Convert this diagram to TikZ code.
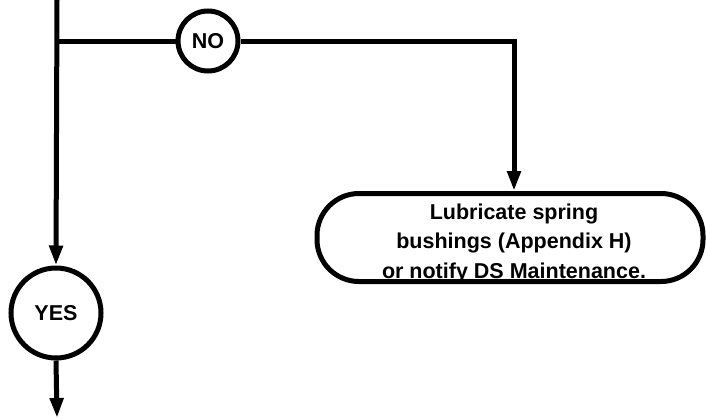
\documentclass[tikz,border=0pt]{standalone}
\usepackage{fontspec}
\setmainfont{Liberation Sans}
\usetikzlibrary{arrows.meta}
\begin{document}
\begin{tikzpicture}[x=1pt,y=-1pt,
  line/.style={line width=5pt},
  arr/.style={line, -{Triangle[length=20pt,width=13pt]}},
  circ/.style={circle, draw, line width=5pt, inner sep=0pt, font=\bfseries\fontsize{21.5}{25}\selectfont},
  actbox/.style={draw, line width=5pt, rounded corners=42pt, minimum width=386pt, minimum height=88pt, inner sep=0pt},
  acttext/.style={align=center, font=\bfseries\fontsize{21.5}{29.5}\selectfont}
]
\useasboundingbox (0,0) rectangle (706,418);
\coordinate (top) at (57,0);
\coordinate (j) at (57,41);
\coordinate (bend) at (514,41);
\coordinate (bot) at (57,418);
\node[circ, minimum size=60pt] (no) at (208,41) {NO};
\node[circ, minimum size=90pt] (yes) at (56,313) {YES};
\node[actbox] (act) at (510,237.5) {};
\node[acttext] (acttxt) at (514,243) {Lubricate spring\\bushings (Appendix H)\\or notify DS Maintenance.};
\draw[arr] (top) -- (yes.north);
\draw[line] (j) -- (no.west);
\draw[arr] (no.east) -- (bend) -- (bend |- act.north);
\draw[arr] (yes.south) -- (bot);
\end{tikzpicture}
\end{document}
